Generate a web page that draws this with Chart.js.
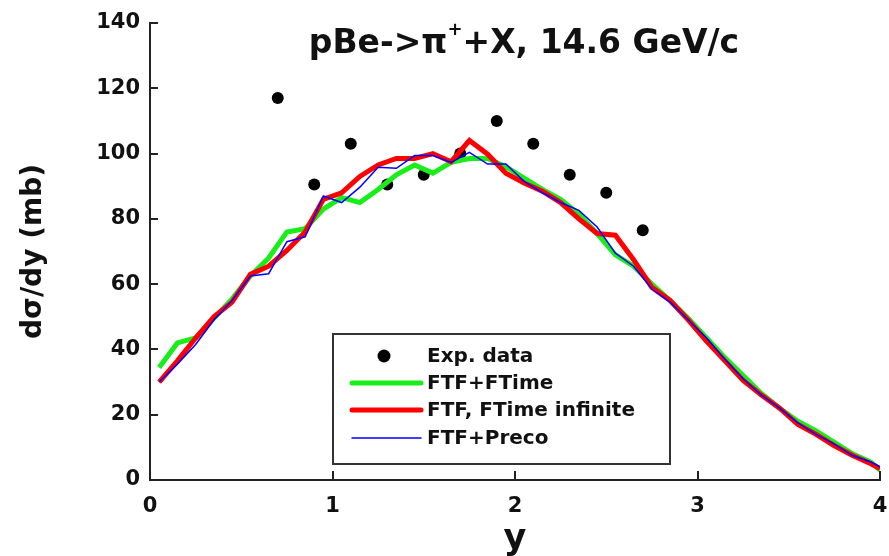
<!DOCTYPE html>
<html><head><meta charset="utf-8">
<script src="https://cdn.jsdelivr.net/npm/chart.js@4.4.1/dist/chart.umd.min.js"></script>
<style>html,body{margin:0;padding:0;background:#fff;}canvas{display:block}</style>
</head><body>
<canvas id="c" width="889" height="556"></canvas>
<script>
// ---- data ----
const yGrid = [0.05,0.15,0.25,0.35,0.45,0.55,0.65,0.75,0.85,0.95,1.05,1.15,1.25,1.35,1.45,1.55,1.65,1.75,1.85,1.95,2.05,2.15,2.25,2.35,2.45,2.55,2.65,2.75,2.85,2.95,3.05,3.15,3.25,3.35,3.45,3.55,3.65,3.75,3.85,3.95,4.00];
const ftfFTime = [34.5,42,43.5,49.5,55.5,62.5,68,76,77,83,86.5,85,89,93.5,96.5,94,97.3,98.5,98.5,96,92.5,89,86,81.5,75.5,69,65.5,60,55,49.5,43.5,37.5,32,26.5,22,18,15,11.5,8,5.5,3];
const ftfFTimeInf = [30,36.5,43.5,50,54.5,63,65.5,70.3,76,86,88,93,96.5,98.5,98.5,100,97.5,104,99.8,94,91,88.5,85,80,75.5,75,67.5,59,55,49,42.5,36.5,30.5,26,22,17,14,10.5,7.5,5,3.5];
const ftfPreco = [30,35.5,41.5,49,55,62.5,63.2,73,74.5,87,85,89.7,95.8,95.5,99.4,99.4,97.3,100.4,96.8,96.8,91.5,88,85,82.6,77.5,69.5,65.5,58.5,54.5,49,43.5,37,31,26,22,17.5,14,11,7.5,5.5,4];
const expY = [0.7,0.9,1.1,1.3,1.5,1.7,1.9,2.1,2.3,2.5,2.7];
const expVal = [117,90.5,103,90.5,93.5,100,110,103,93.5,88,76.5];
const seriesNames = ['Exp. data','FTF+FTime','FTF, FTime infinite','FTF+Preco'];
const xTicks = [0,1,2,3,4];
const yTicks = [0,20,40,60,80,100,120,140];

const FONT = "'DejaVu Sans', sans-serif";
const TXT = '#111';
const pts = (xs, ys) => xs.map((x, i) => ({x, y: ys[i]}));

const inwardTicks = {
  id: 'inwardTicks',
  afterDraw(chart) {
    const {ctx, chartArea: a, scales: {x, y}} = chart;
    ctx.save();
    ctx.strokeStyle = '#222'; ctx.lineWidth = 2;
    yTicks.forEach(v => { const py = Math.round(y.getPixelForValue(v)); ctx.beginPath(); ctx.moveTo(a.left, py); ctx.lineTo(a.left + 8, py); ctx.stroke(); });
    xTicks.forEach(v => { const px = Math.round(x.getPixelForValue(v)); ctx.beginPath(); ctx.moveTo(px, a.bottom); ctx.lineTo(px, a.bottom - 9); ctx.stroke(); });
    ctx.restore();
  }
};

const titlePlugin = {
  id: 'titlePlugin',
  afterDraw(chart) {
    const ctx = chart.ctx;
    ctx.save();
    ctx.fillStyle = TXT; ctx.textBaseline = 'alphabetic'; ctx.textAlign = 'left';
    const big = 'bold 33px ' + FONT, small = 'bold 18px ' + FONT;
    const p1 = 'pBe->\u03c0', sup = '+', p2 = '+X, 14.6 GeV/c';
    ctx.font = big; const w1 = ctx.measureText(p1).width, w3 = ctx.measureText(p2).width;
    ctx.font = small; const w2 = ctx.measureText(sup).width;
    const total = w1 + w2 + w3; let x0 = 524 - total / 2; const base = 53;
    ctx.font = big; ctx.fillText(p1, x0, base);
    ctx.font = small; ctx.fillText(sup, x0 + w1, base - 18);
    ctx.font = big; ctx.fillText(p2, x0 + w1 + w2, base);
    ctx.restore();
  }
};

const legendPlugin = {
  id: 'legendPlugin',
  afterDraw(chart) {
    const ctx = chart.ctx;
    const L = 333, T = 334, R = 670, B = 464;
    ctx.save();
    ctx.fillStyle = '#fff'; ctx.fillRect(L, T, R - L, B - T);
    ctx.strokeStyle = '#333'; ctx.lineWidth = 2; ctx.strokeRect(L, T, R - L, B - T);
    const rows = [356, 383, 410, 438];
    const ds = chart.data.datasets;
    ctx.font = 'bold 20px ' + FONT; ctx.fillStyle = TXT; ctx.textBaseline = 'middle'; ctx.textAlign = 'left';
    rows.forEach((ry, i) => {
      const d = ds[i];
      if (i === 0) {
        ctx.beginPath(); ctx.arc(384, ry, 6.5, 0, Math.PI * 2); ctx.fillStyle = d.backgroundColor; ctx.fill();
      } else {
        ctx.beginPath(); ctx.moveTo(352, ry); ctx.lineTo(421, ry); ctx.strokeStyle = d.borderColor; ctx.lineWidth = d.borderWidth; ctx.lineCap = 'round'; ctx.stroke();
      }
      ctx.fillStyle = TXT; ctx.fillText(d.label, 427, ry + 1);
    });
    ctx.restore();
  }
};

new Chart(document.getElementById('c'), {
  type: 'line',
  data: {
    datasets: [
      {label: seriesNames[0], data: pts(expY, expVal), showLine: false, pointRadius: 6, pointStyle: 'circle', backgroundColor: '#000', borderColor: '#000', borderWidth: 0, order: 4},
      {label: seriesNames[1], data: pts(yGrid, ftfFTime), borderColor: '#1aee1a', borderWidth: 5, pointRadius: 0, tension: 0, fill: false, order: 3},
      {label: seriesNames[2], data: pts(yGrid, ftfFTimeInf), borderColor: '#ff0000', borderWidth: 5, pointRadius: 0, tension: 0, fill: false, order: 2},
      {label: seriesNames[3], data: pts(yGrid, ftfPreco), borderColor: '#0000ff', borderWidth: 1.5, pointRadius: 0, tension: 0, fill: false, order: 1}
    ]
  },
  options: {
    responsive: false, animation: false, devicePixelRatio: 1,
    layout: {padding: {top: 23, right: 9, left: 0, bottom: 0}},
    plugins: {legend: {display: false}, tooltip: {enabled: false}, title: {display: false}},
    scales: {
      x: {
        type: 'linear', min: 0, max: 4,
        afterFit: s => { s.height = 76; s.paddingRight = 0; s.paddingLeft = 0; },
        afterBuildTicks: s => { s.ticks = xTicks.map(v => ({value: v})); },
        grid: {display: false, drawTicks: false},
        border: {display: true, color: '#222', width: 2},
        ticks: {font: {family: FONT, size: 21, weight: 'bold'}, color: TXT, padding: 14, maxRotation: 0},
        title: {display: true, text: 'y', font: {family: FONT, size: 35, weight: 'bold'}, color: TXT, padding: {top: 0, bottom: -5}}
      },
      y: {
        type: 'linear', min: 0, max: 140,
        afterFit: s => { s.width = 150; s.paddingTop = 0; s.paddingBottom = 0; },
        afterBuildTicks: s => { s.ticks = yTicks.map(v => ({value: v})); },
        grid: {display: false, drawTicks: false},
        border: {display: true, color: '#222', width: 2},
        ticks: {font: {family: FONT, size: 21, weight: 'bold'}, color: TXT, padding: 10},
        title: {display: true, text: 'd\u03c3/dy (mb)', font: {family: FONT, size: 28, weight: 'bold'}, color: TXT, padding: {top: 17, bottom: 0}}
      }
    }
  },
  plugins: [inwardTicks, titlePlugin, legendPlugin]
});
</script>
</body></html>
